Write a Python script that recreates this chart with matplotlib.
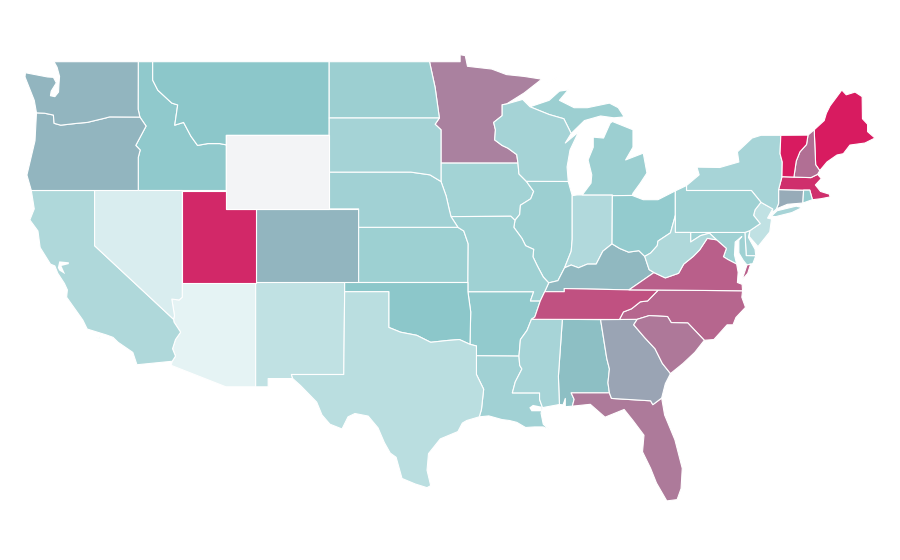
import matplotlib
matplotlib.use('Agg')
import matplotlib.pyplot as plt
from matplotlib.colors import LinearSegmentedColormap, Normalize

# ── Values (0-100 index; WY has no data) ────────────────────────────────────
STATES = ['AL','AR','AZ','CA','CO','CT','DE','FL','GA','IA','ID','IL','IN','KS','KY','LA','MA','MD','ME','MI',
          'MN','MO','MS','MT','NC','ND','NE','NH','NJ','NM','NV','NY','OH','OK','OR','PA','RI','SC','SD','TN',
          'TX','UT','VA','VT','WA','WI','WV','WY']
VALUES = [52, 46, 3, 31, 55, 58, 36, 72, 60, 37, 47, 41, 30, 40, 54, 38, 94, 39, 100, 41,
          70, 39, 35, 49, 78, 41, 38, 75, 22, 22, 9, 35, 45, 49, 55, 39, 45, 73, 36, 84,
          25, 96, 80, 100, 55, 36, 31, float('nan')]
COLOR_STOPS = ['#eaf6f7', '#8ac6c9', '#d81b60']
NO_DATA = '#f3f4f6'

# ── Shared borders, lon/lat ─────────────────────────────────────────────────
STCROIX = [(-92.0,46.7),(-92.29,46.66),(-92.29,46.07),(-92.87,45.7),(-92.75,45.3),(-92.8,44.75),(-92.3,44.45),(-91.9,44.3),(-91.3,43.95),(-91.22,43.5)]
MISS_IA_WI = [(-91.22,43.5),(-91.15,42.9),(-90.65,42.5)]
MISS_IA_IL = [(-90.65,42.5),(-90.15,41.95),(-90.35,41.55),(-91.05,41.2),(-91.1,40.7),(-91.42,40.38)]
MISS_MO_IL = [(-91.42,40.38),(-91.5,40.0),(-90.95,39.4),(-90.7,39.0),(-90.15,38.8),(-90.2,38.4),(-89.9,37.9),(-89.5,37.3),(-89.13,36.98)]
MISS_MO_KY = [(-89.13,36.98),(-89.4,36.5)]
MISS_MO_TN = [(-89.4,36.5),(-89.7,36.0)]
MISS_AR_TN = [(-89.7,36.0),(-90.07,35.13),(-90.3,35.0)]
MISS_AR_MS = [(-90.3,35.0),(-90.6,34.4),(-91.05,33.9),(-91.15,33.0)]
MISS_LA_MS = [(-91.15,33.0),(-91.1,32.5),(-90.95,32.3),(-91.4,31.6),(-91.6,31.0)]
OHIO_IL = [(-89.13,36.98),(-88.5,37.1),(-88.05,37.8)]
OHIO_IN = [(-88.05,37.8),(-87.6,37.95),(-87.1,37.8),(-86.5,38.0),(-85.9,38.0),(-85.45,38.7),(-84.82,39.1)]
OHIO_OH = [(-84.82,39.1),(-84.3,38.85),(-83.7,38.65),(-83.0,38.73),(-82.6,38.42)]
OHIO_WV = [(-82.6,38.42),(-82.2,38.6),(-81.75,39.0),(-81.7,39.25),(-80.85,39.7),(-80.52,40.64)]
KY_WV = [(-82.6,38.42),(-82.3,37.7),(-81.97,37.54)]
KY_VA = [(-81.97,37.54),(-83.67,36.6)]
KY_TN = [(-83.67,36.6),(-88.07,36.67),(-88.07,36.5),(-89.4,36.5)]
VA_WV = [(-81.97,37.54),(-81.2,37.25),(-80.3,37.5),(-79.95,38.0),(-79.3,38.42),(-78.87,38.77),(-78.35,39.4),(-77.72,39.32)]
POTOMAC = [(-77.72,39.32),(-77.05,38.85),(-77.25,38.4),(-76.95,38.25),(-76.35,38.0)]
NC_TN = [(-81.68,36.59),(-82.4,36.0),(-82.9,35.95),(-83.5,35.57),(-84.05,35.4),(-84.32,34.99)]
NC_SC = [(-78.55,33.86),(-79.67,34.8),(-80.8,34.82),(-81.05,35.15),(-82.3,35.2),(-83.11,35.0)]
GA_SC = [(-80.85,32.05),(-81.4,32.6),(-81.9,33.4),(-82.6,34.0),(-83.35,34.7),(-83.11,35.0)]
AL_GA = [(-85.6,34.98),(-85.18,32.87),(-85.0,32.3),(-85.1,31.55),(-85.0,31.0)]
FL_GA = [(-85.0,31.0),(-84.86,30.7),(-82.2,30.57),(-82.05,30.36),(-81.45,30.72)]
AL_MS = [(-88.2,35.0),(-88.47,31.9),(-88.4,30.37)]
PEARL = [(-89.55,30.2),(-89.75,30.65),(-89.75,31.0),(-91.6,31.0)]
RED_RIVER = [(-100.0,34.56),(-99.2,34.3),(-98.1,34.13),(-97.15,33.75),(-96.0,33.85),(-95.2,33.9),(-94.48,33.64)]
SABINE = [(-94.04,33.02),(-94.04,32.0),(-93.55,31.2),(-93.7,30.1),(-93.85,29.7)]
COLORADO_R = [(-114.04,36.2),(-114.25,36.05),(-114.75,36.1),(-114.57,35.2),(-114.63,35.0)]
AZ_CA = [(-114.63,35.0),(-114.6,34.85),(-114.15,34.3),(-114.5,33.9),(-114.7,33.4),(-114.5,33.0),(-114.72,32.72)]
SNAKE = [(-117.03,42.0),(-117.03,43.8),(-116.9,44.2),(-117.2,44.45),(-116.5,45.5),(-116.92,45.99)]
OR_WA = [(-116.92,45.99),(-118.98,46.0),(-119.3,45.93),(-120.5,45.7),(-121.2,45.65),(-122.3,45.55),(-122.75,45.65),(-122.8,46.1),(-123.4,46.2),(-123.95,46.22)]
ID_MT = [(-116.05,48.0),(-115.7,47.45),(-114.75,46.75),(-114.35,46.65),(-114.55,45.55),(-113.95,45.7),(-113.45,44.95),(-113.0,44.45),(-112.3,44.55),(-111.5,44.55),(-111.05,44.48)]
MO_RIVER_SD = [(-96.45,42.49),(-97.2,42.85),(-98.5,43.0)]
MO_RIVER_IA = [(-96.45,42.49),(-96.1,41.7),(-95.9,41.0),(-95.77,40.58)]
MO_RIVER_KS = [(-95.3,40.0),(-94.9,39.8),(-94.6,39.1)]
SD_MN = [(-96.56,45.94),(-96.85,45.6),(-96.45,45.3),(-96.45,43.5)]
NY_PA = [(-79.76,42.27),(-79.76,42.0),(-75.35,42.0),(-74.7,41.36)]
NJ_PA = [(-74.7,41.36),(-75.1,40.95),(-75.2,40.65),(-74.75,40.2),(-75.45,39.82)]
NY_NE = [(-73.35,45.0),(-73.4,44.0),(-73.25,43.55),(-73.27,42.75)]
VT_NH = [(-71.5,45.01),(-71.6,44.5),(-72.05,44.1),(-72.3,43.6),(-72.46,42.73)]
r = lambda chain: chain[::-1]

# ── State outlines (a list of rings per state) ──────────────────────────────
SHAPES = {
    'WA': [[(-122.76,49),(-117.03,49),(-117.04,46.42)] + OR_WA + [(-124.1,46.9),(-124.73,48.17),(-124.7,48.4),(-123.2,48.17),(-122.8,48.15),(-122.6,47.85),(-122.95,47.4),(-123.0,47.15),(-122.7,47.1),(-122.45,47.35),(-122.42,47.8),(-122.38,48.2),(-122.55,48.7)]],
    'OR': [[(-124.3,42)] + SNAKE + OR_WA[1:] + [(-124.05,44.7),(-124.6,42.84)]],
    'CA': [[(-124.3,42),(-120,42),(-120,39)] + AZ_CA + [(-117.12,32.53),(-117.4,33.2),(-118.4,33.75),(-118.75,34.02),(-119.2,34.15),(-120.5,34.47),(-120.8,34.96),(-121.9,36.2),(-121.85,36.6),(-122.05,36.95),(-122.5,37.5),(-122.7,37.9),(-123.0,38.0),(-123.7,38.9),(-123.85,39.8),(-124.4,40.4),(-124.1,41.0)],
           [(-120.05,33.95),(-119.6,33.97),(-119.6,34.05)]],
    'NV': [[(-120,42),(-114.04,42)] + COLORADO_R + [(-120,39)]],
    'ID': [[(-117.03,49),(-116.05,49)] + ID_MT + [(-111.05,42)] + SNAKE + [(-117.04,46.42)]],
    'MT': [[(-116.05,49),(-104.05,49),(-104.05,45),(-111.05,45)] + r(ID_MT)],
    'WY': [[(-111.05,45),(-104.05,45),(-104.05,41),(-111.05,41)]],
    'UT': [[(-114.04,42),(-111.05,42),(-111.05,41),(-109.05,41),(-109.05,37),(-114.04,37)]],
    'CO': [[(-109.05,41),(-102.05,41),(-102.05,37),(-109.05,37)]],
    'AZ': [[(-114.04,37),(-109.05,37),(-109.05,31.33),(-111.07,31.33),(-114.8,32.5)] + r(AZ_CA) + r(COLORADO_R)],
    'NM': [[(-109.05,37),(-103.0,37),(-103.0,36.5),(-103.06,32),(-106.62,32),(-106.53,31.78),(-108.2,31.78),(-108.2,31.33),(-109.05,31.33)]],
    'TX': [[(-106.62,32),(-103.06,32),(-103.0,36.5),(-100,36.5)] + RED_RIVER + [(-94.04,33.55)] + SABINE + [(-94.7,29.5),(-95.0,29.36),(-95.3,28.9),(-96.5,28.5),(-97.3,27.7),(-97.4,26.8),(-97.15,25.96),(-97.4,25.85),(-98.2,26.05),(-99.1,26.35),(-99.5,27.5),(-99.9,27.73),(-100.3,28.3),(-100.73,29.1),(-101.4,29.74),(-102.3,29.88),(-102.77,29.7),(-103.18,29.04),(-104.0,29.3),(-104.54,29.8),(-104.9,30.5),(-106.0,31.4),(-106.53,31.78)]],
    'OK': [[(-103,37),(-94.62,37),(-94.62,36.5),(-94.43,35.4)] + r(RED_RIVER) + [(-100,36.5),(-103,36.5)]],
    'KS': [[(-102.05,40)] + MO_RIVER_KS + [(-94.62,37),(-102.05,37)]],
    'NE': [[(-104.05,43)] + r(MO_RIVER_SD) + MO_RIVER_IA + [(-95.3,40),(-102.05,40),(-102.05,41),(-104.05,41)]],
    'SD': [[(-104.05,45.94)] + SD_MN + MO_RIVER_SD + [(-104.05,43)]],
    'ND': [[(-104.05,49),(-97.23,49),(-96.85,47.6),(-96.56,45.94),(-104.05,45.94)]],
    'MN': [[(-97.23,49),(-95.15,49),(-95.15,49.38),(-94.8,49.33),(-94.65,48.75),(-93.0,48.6),(-92.0,48.3),(-90.8,48.2),(-89.6,48.05),(-90.8,47.3)] + STCROIX + r(SD_MN) + [(-96.85,47.6)]],
    'IA': [[(-96.45,43.5)] + MISS_IA_WI + MISS_IA_IL + [(-91.7,40.6)] + r(MO_RIVER_IA)],
    'MO': [[(-95.77,40.58),(-91.7,40.6)] + MISS_MO_IL + MISS_MO_KY + MISS_MO_TN + [(-90.37,36.0),(-90.15,36.5),(-94.62,36.5),(-94.62,37)] + r(MO_RIVER_KS)],
    'AR': [[(-94.62,36.5),(-90.15,36.5),(-90.37,36.0)] + MISS_AR_TN + MISS_AR_MS + [(-94.04,33.02),(-94.04,33.55),(-94.48,33.64),(-94.43,35.4)]],
    'LA': [[(-94.04,33.02)] + MISS_LA_MS + r(PEARL) + [(-89.65,29.9),(-89.5,29.3),(-89.1,29.0),(-89.5,29.15),(-90.1,29.15),(-90.7,29.12),(-91.3,29.4),(-91.8,29.5),(-92.3,29.55),(-93.2,29.75)] + r(SABINE)],
    'MS': [MISS_AR_MS + MISS_LA_MS + r(PEARL) + [(-88.4,30.37)] + r(AL_MS)],
    'AL': [AL_MS[:1] + AL_GA + [(-87.6,31.0),(-87.4,30.65),(-87.52,30.28),(-88.0,30.25),(-88.0,30.7),(-88.15,30.35),(-88.4,30.37),(-88.47,31.9)]],
    'TN': [r(KY_TN) + [(-81.68,36.59)] + NC_TN + [(-90.3,35.0),(-90.07,35.13),(-89.7,36.0)]],
    'KY': [OHIO_IL + OHIO_IN + OHIO_OH + KY_WV + KY_VA + KY_TN],
    'WI': [[(-92.0,46.7),(-90.9,46.95),(-90.4,46.55),(-89.1,46.13),(-88.1,45.9),(-87.6,45.1),(-88.0,44.58),(-87.1,45.18),(-87.68,44.2),(-87.88,43.28),(-87.8,42.49)] + r(MISS_IA_WI) + r(STCROIX)],
    'IL': [[(-90.65,42.5),(-87.8,42.49),(-87.53,41.72),(-87.53,39.35),(-87.6,38.7)] + r(OHIO_IL) + r(MISS_MO_IL) + r(MISS_IA_IL)],
    'IN': [[(-87.53,41.72),(-87.2,41.76),(-84.8,41.76)] + r(OHIO_IN) + [(-87.6,38.7),(-87.53,39.35)]],
    'OH': [[(-84.8,41.72),(-83.45,41.73),(-82.7,41.5),(-81.7,41.5),(-80.52,41.98)] + r(OHIO_WV) + r(OHIO_OH)],
    'MI': [[(-86.85,41.76),(-86.25,42.4),(-86.2,42.85),(-86.45,43.66),(-86.1,44.35),(-86.1,44.9),(-85.4,44.85),(-84.95,45.66),(-84.8,45.75),(-83.4,45.3),(-83.4,44.35),(-83.9,43.66),(-82.7,44.03),(-82.45,42.95),(-82.9,42.4),(-83.4,41.85),(-83.45,41.73),(-84.8,41.72),(-84.8,41.76)],
           [(-90.4,46.55),(-89.1,46.9),(-88.4,47.4),(-87.8,47.47),(-88.4,46.9),(-87.4,46.5),(-86.5,46.5),(-85.0,46.75),(-84.4,46.5),(-84.0,46.0),(-84.7,45.95),(-85.6,46.05),(-86.7,45.8),(-87.6,45.1),(-88.1,45.9),(-89.1,46.13)],
           [(-89.2,47.85),(-88.5,48.15),(-88.7,48.05)]],
    'WV': [[(-80.52,40.64),(-80.52,39.72),(-79.48,39.72),(-79.48,39.2),(-78.8,39.55),(-78.2,39.68)] + r(VA_WV) + r(KY_WV) + OHIO_WV[1:-1]],
    'VA': [VA_WV + POTOMAC + [(-76.25,37.55),(-76.3,37.0),(-75.98,36.9),(-75.95,36.55),(-81.68,36.59),(-83.67,36.6)],
           [(-75.98,37.15),(-75.65,37.95),(-75.4,38.0),(-75.6,37.5)]],
    'NC': [[(-75.95,36.55),(-76.0,36.2),(-75.75,35.65),(-76.4,35.1),(-76.6,34.7),(-77.0,34.7),(-77.9,33.9)] + NC_SC + r(NC_TN)],
    'SC': [NC_SC + r(GA_SC) + [(-80.0,32.6),(-79.2,33.2)]],
    'GA': [[(-85.6,34.98),(-84.32,34.99),(-83.11,35.0)] + r(GA_SC)[1:] + [(-81.2,31.5)] + r(FL_GA) + r(AL_GA)[:-1]],
    'FL': [[(-87.6,31.0)] + FL_GA + [(-81.25,29.8),(-80.55,28.45),(-80.05,26.9),(-80.13,25.8),(-80.4,25.2),(-81.1,25.13),(-81.8,26.1),(-82.2,26.9),(-82.75,27.8),(-82.65,28.7),(-83.4,29.5),(-84.0,30.1),(-85.3,29.68),(-86.3,30.38),(-87.52,30.28),(-87.4,30.65)]],
    'MD': [[(-79.48,39.72),(-75.79,39.72),(-75.7,38.46),(-75.05,38.45),(-75.25,38.03),(-75.65,37.95),(-75.9,38.2),(-76.2,38.6),(-76.2,39.3),(-76.0,39.5),(-76.45,39.2),(-76.5,38.5),(-76.35,38.0)] + r(POTOMAC)[1:] + [(-78.2,39.68),(-78.8,39.55),(-79.48,39.2)]],
    'DE': [[(-75.79,39.72),(-75.45,39.82),(-75.55,39.45),(-75.1,38.8),(-75.05,38.45),(-75.7,38.46)]],
    'PA': [[(-80.52,41.98)] + NY_PA + NJ_PA + [(-75.79,39.72),(-80.52,39.72)]],
    'NJ': [[(-74.7,41.36),(-73.9,41.0),(-74.25,40.5),(-73.98,40.45),(-74.1,39.75),(-74.9,38.95),(-75.5,39.5)] + r(NJ_PA)],
    'NY': [[(-79.76,42.27),(-78.9,42.85),(-79.05,43.27),(-77.5,43.25),(-76.2,43.55),(-76.3,44.1),(-75.3,44.85),(-74.7,45.0)] + NY_NE + [(-73.5,42.05),(-73.5,41.3),(-73.65,41.0),(-73.9,40.8),(-73.9,41.0)] + r(NY_PA),
           [(-74.0,40.6),(-73.6,40.9),(-72.3,41.15),(-71.9,41.07),(-72.6,40.8),(-73.7,40.58)]],
    'CT': [[(-73.5,42.05),(-71.8,42.02),(-71.85,41.32),(-72.9,41.25),(-73.65,41.0),(-73.5,41.3)]],
    'RI': [[(-71.8,42.02),(-71.38,42.02),(-71.2,41.5),(-71.85,41.32)]],
    'MA': [[(-73.5,42.05),(-73.27,42.75),(-72.46,42.73),(-71.3,42.7),(-70.85,42.88),(-70.6,42.65),(-71.0,42.3),(-70.65,41.95),(-70.05,41.8),(-70.0,41.65),(-70.65,41.55),(-71.2,41.5),(-71.38,42.02),(-71.8,42.02)]],
    'VT': [NY_NE + r(VT_NH)],
    'NH': [VT_NH + [(-71.3,42.7),(-70.85,42.88),(-70.7,43.08),(-70.98,43.4),(-71.08,45.3)]],
    'ME': [[(-71.08,45.3),(-70.4,45.8),(-70.25,46.2),(-70.0,46.6),(-69.2,47.46),(-68.9,47.2),(-68.3,47.35),(-67.82,47.1),(-67.8,45.9),(-67.45,45.6),(-67.45,45.2),(-66.95,44.85),(-67.63,44.58),(-68.65,44.47),(-69.1,44.0),(-69.53,43.93),(-70.21,43.55),(-70.7,43.08),(-70.98,43.4)]],
}
# open water cut out of the filled states
WATER = [[(-122.5,37.8),(-122.4,38.15),(-121.75,38.1),(-121.75,38.0),(-122.25,37.9),(-122.0,37.45),(-122.4,37.65)],
         [(-90.45,30.2),(-90.2,30.35),(-89.6,30.25),(-89.6,30.0),(-90.3,30.0)]]

# ── Map frame: plate carree, stretched to the picture ───────────────────────
X_SCALE, Y_SCALE = 14.71, 18.4          # px per degree
lon0 = -124.73 - 25 / X_SCALE
lat0 = 37 + 282.5 / Y_SCALE

fig = plt.figure(figsize=(9, 5.6), dpi=100, facecolor='white')
ax = fig.add_axes([0, 0, 1, 1])
ax.set_xlim(lon0, lon0 + 900 / X_SCALE)
ax.set_ylim(lat0 - 560 / Y_SCALE, lat0)
ax.axis('off')

cmap = LinearSegmentedColormap.from_list('heat', COLOR_STOPS)
cmap.set_bad(NO_DATA)
norm = Normalize(0, 100)

for code, val in zip(STATES, VALUES):
    for ring in SHAPES[code]:
        xs, ys = zip(*ring)
        ax.fill(xs, ys, facecolor=cmap(norm(val)), edgecolor='white', linewidth=0.8,
                joinstyle='round', zorder=3 if code == 'WY' else 2)
for ring in WATER:
    xs, ys = zip(*ring)
    ax.fill(xs, ys, facecolor='white', edgecolor='none', zorder=4)

fig.savefig('out.png', dpi=100, facecolor='white')
